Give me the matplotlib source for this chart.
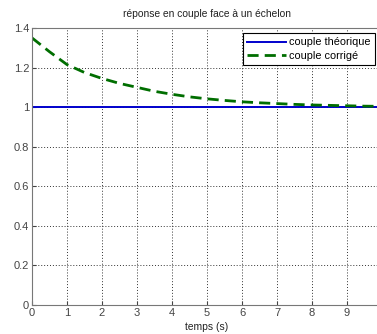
import numpy as np
import matplotlib
matplotlib.use("Agg")
import matplotlib.pyplot as plt

# step response data
t = [0, 0.5, 1, 1.5, 2, 2.5, 3, 3.5, 4, 4.5, 5, 5.5, 6, 6.5, 7, 7.5, 8, 8.5, 9, 9.5, 10]
couple_corrige = [1.35, 1.28, 1.215, 1.175, 1.145, 1.12, 1.10, 1.08, 1.065, 1.052,
                  1.042, 1.034, 1.027, 1.022, 1.018, 1.014, 1.011, 1.009, 1.007,
                  1.005, 1.004]
t_theo = [0, 10]
couple_theorique = [1.0, 1.0]

xticks = list(range(0, 11))
yticks = [0, 0.2, 0.4, 0.6, 0.8, 1.0, 1.2, 1.4]
yticklabels = ["0", "0.2", "0.4", "0.6", "0.8", "1", "1.2", "1.4"]

plt.rcParams["font.family"] = ["Liberation Sans", "DejaVu Sans"]

fig = plt.figure(figsize=(3.77, 3.34), dpi=100)
# axes runs past the right edge, like the cropped original
ax = fig.add_axes([32 / 377, 29 / 334, 350 / 377, 277 / 334])

ax.plot(t_theo, couple_theorique, color="#0000cc", lw=1.4, label="couple théorique")
ax.plot(t, couple_corrige, color="#006e00", lw=2.0, ls=(0, (4, 2.2)),
        label="couple corrigé")

ax.set_xlim(0, 10)
ax.set_ylim(0, 1.4)
ax.set_xticks(xticks)
ax.set_yticks(yticks)
ax.set_yticklabels(yticklabels)
ax.tick_params(direction="in", length=3, labelsize=8, colors="#444444",
               top=False, right=False, pad=2)
ax.grid(True, ls=(0, (1, 2)), color="#333333", lw=0.7)
for s in ("left", "bottom", "top", "right"):
    ax.spines[s].set_color("#777777")

ax.set_title("réponse en couple face à un échelon", fontsize=7.4, color="#222222", pad=8)
ax.set_xlabel("temps (s)", fontsize=7.4, color="#222222", labelpad=3)

leg = ax.legend(loc="upper right", bbox_to_anchor=(0.98, 0.982), borderaxespad=0,
                fancybox=False, framealpha=1, edgecolor="black", fontsize=7.8,
                handlelength=3.6, handletextpad=0.3, borderpad=0.4, labelspacing=0.35)
leg.get_frame().set_linewidth(0.8)

fig.savefig("out.png", dpi=100)
